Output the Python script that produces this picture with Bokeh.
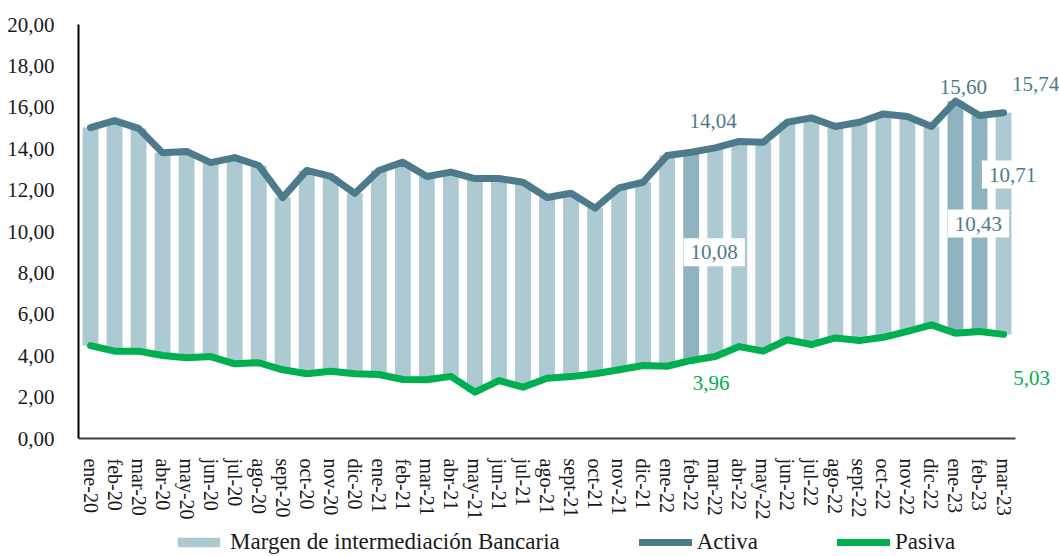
from bokeh.plotting import figure
from bokeh.models import (ColumnDataSource, Range1d, FixedTicker,
                          Legend, LegendItem, Label)
from bokeh.embed import file_html
from bokeh.resources import INLINE

# ---------------- data ----------------
categories = [
    "ene-20", "feb-20", "mar-20", "abr-20", "may-20", "jun-20", "jul-20", "ago-20",
    "sept-20", "oct-20", "nov-20", "dic-20",
    "ene-21", "feb-21", "mar-21", "abr-21", "may-21", "jun-21", "jul-21", "ago-21",
    "sept-21", "oct-21", "nov-21", "dic-21",
    "ene-22", "feb-22", "mar-22", "abr-22", "may-22", "jun-22", "jul-22", "ago-22",
    "sept-22", "oct-22", "nov-22", "dic-22",
    "ene-23", "feb-23", "mar-23",
]
activa = [
    15.02, 15.36, 14.98, 13.80, 13.87, 13.33, 13.57, 13.19, 11.64, 12.95, 12.66, 11.84,
    12.95, 13.35, 12.66, 12.87, 12.56, 12.56, 12.38, 11.64, 11.85, 11.13, 12.11, 12.38,
    13.67, 13.83, 14.04, 14.35, 14.31, 15.28, 15.49, 15.07, 15.28, 15.68, 15.56, 15.07,
    16.30, 15.60, 15.74,
]
pasiva = [
    4.49, 4.22, 4.22, 4.01, 3.90, 3.96, 3.61, 3.66, 3.32, 3.13, 3.25, 3.13,
    3.09, 2.85, 2.84, 3.00, 2.24, 2.80, 2.48, 2.91, 2.99, 3.13, 3.32, 3.53,
    3.49, 3.77, 3.96, 4.44, 4.22, 4.77, 4.54, 4.86, 4.73, 4.89, 5.18, 5.49,
    5.09, 5.17, 5.03,
]
highlighted = ["feb-22", "ene-23", "feb-23"]
y_ticks = [0, 2, 4, 6, 8, 10, 12, 14, 16, 18, 20]
y_tick_labels = ["0,00", "2,00", "4,00", "6,00", "8,00", "10,00", "12,00",
                 "14,00", "16,00", "18,00", "20,00"]
series_names = ["Margen de intermediación Bancaria", "Activa", "Pasiva"]

# annotated points: (category, which value)
annotations = [
    ("mar-22", "activa"), ("mar-22", "margen"), ("mar-22", "pasiva"),
    ("feb-23", "activa"), ("feb-23", "margen"),
    ("mar-23", "activa"), ("mar-23", "margen"), ("mar-23", "pasiva"),
]
# screen offsets for the annotations (px), kept apart from the data
ann_offsets = [(-2, 27), (-1, 0), (-4, -26), (-16, 29), (-1, 0), (32, 29), (9, 49), (28, -44)]

# ---------------- style ----------------
FONT = "Liberation Serif"
TEAL = "#4d7b8b"
GREEN = "#00b050"
BAR = "#adc9d1"
BAR_DARK = "#8fb4c0"

xs = list(range(len(categories)))
n = len(categories)

p = figure(
    x_range=Range1d(-0.5, n - 0.5 + 1.83),   # room at right for the end labels
    y_range=Range1d(-5.70, 20),              # room below for axis labels + legend
    width=1059, height=556,
    output_backend="svg", toolbar_location=None,
    min_border_left=78, min_border_right=0, min_border_top=24, min_border_bottom=0,
    outline_line_color=None,
)
p.xgrid.grid_line_color = None
p.ygrid.grid_line_color = None

norm = [i for i, c in enumerate(categories) if c not in highlighted]
high = [i for i, c in enumerate(categories) if c in highlighted]
src_norm = ColumnDataSource(dict(x=[xs[i] for i in norm],
                                 top=[activa[i] for i in norm],
                                 bottom=[pasiva[i] for i in norm]))
src_high = ColumnDataSource(dict(x=[xs[i] for i in high],
                                 top=[activa[i] for i in high],
                                 bottom=[pasiva[i] for i in high]))

r_bar = p.vbar(x="x", top="top", bottom="bottom", width=0.66, fill_color=BAR,
               line_color=None, source=src_norm)
p.vbar(x="x", top="top", bottom="bottom", width=0.66, fill_color=BAR_DARK,
       line_color=None, source=src_high)

r_pas = p.line(xs, pasiva, line_width=7, line_color=GREEN,
               line_join="round", line_cap="round")
r_act = p.line(xs, activa, line_width=7, line_color=TEAL,
               line_join="round", line_cap="round")

# annotations
for (cat, kind), (dx, dy) in zip(annotations, ann_offsets):
    i = categories.index(cat)
    a, b = activa[i], pasiva[i]
    if kind == "activa":
        yv, val, col, bg = a, a, TEAL, None
    elif kind == "pasiva":
        yv, val, col, bg = b, b, GREEN, None
    else:
        yv, val, col, bg = (a + b) / 2, a - b, TEAL, "white"
    txt = f"{val:.2f}".replace(".", ",")
    lab = Label(x=xs[i], y=yv, text=txt, x_offset=dx, y_offset=dy,
                text_align="center", text_baseline="middle",
                text_font=FONT, text_font_size="21px", text_color=col)
    if bg:
        lab.background_fill_color = bg
        lab.padding = 7
    p.add_layout(lab)

# axes
p.yaxis.ticker = FixedTicker(ticks=y_ticks)
p.yaxis.major_label_overrides = {t: l for t, l in zip(y_ticks, y_tick_labels)}
p.yaxis.bounds = (0, 20)
p.yaxis.axis_line_color = "black"
p.yaxis.axis_line_width = 2
p.yaxis.major_tick_line_color = None
p.yaxis.minor_tick_line_color = None
p.yaxis.major_label_text_font = FONT
p.yaxis.major_label_text_font_size = "21px"
p.yaxis.major_label_text_color = "#1a1a1a"
p.yaxis.major_label_standoff = 18

p.xaxis.fixed_location = 0
p.xaxis.ticker = FixedTicker(ticks=xs)
p.xaxis.major_label_overrides = {x: c for x, c in zip(xs, categories)}
p.xaxis.bounds = (-0.5, n - 0.5)
p.xaxis.axis_line_color = "#404040"
p.xaxis.axis_line_width = 2
p.xaxis.major_tick_line_color = None
p.xaxis.minor_tick_line_color = None
p.xaxis.major_label_orientation = "vertical"
p.xaxis.major_label_text_font = FONT
p.xaxis.major_label_text_font_size = "20px"
p.xaxis.major_label_text_color = "#1a1a1a"
p.xaxis.major_label_standoff = 14

legend = Legend(
    items=[LegendItem(label=series_names[0], renderers=[r_bar]),
           LegendItem(label=series_names[1], renderers=[r_act]),
           LegendItem(label=series_names[2], renderers=[r_pas])],
    orientation="horizontal", location=(94, 1),
    label_text_font=FONT, label_text_font_size="23px", label_text_color="#1a1a1a",
    glyph_width=53, glyph_height=12, spacing=79, label_standoff=5,
    padding=0, margin=0, border_line_color=None, background_fill_alpha=0,
)
p.add_layout(legend, "center")

open("out.html", "w").write(file_html(p, INLINE))
